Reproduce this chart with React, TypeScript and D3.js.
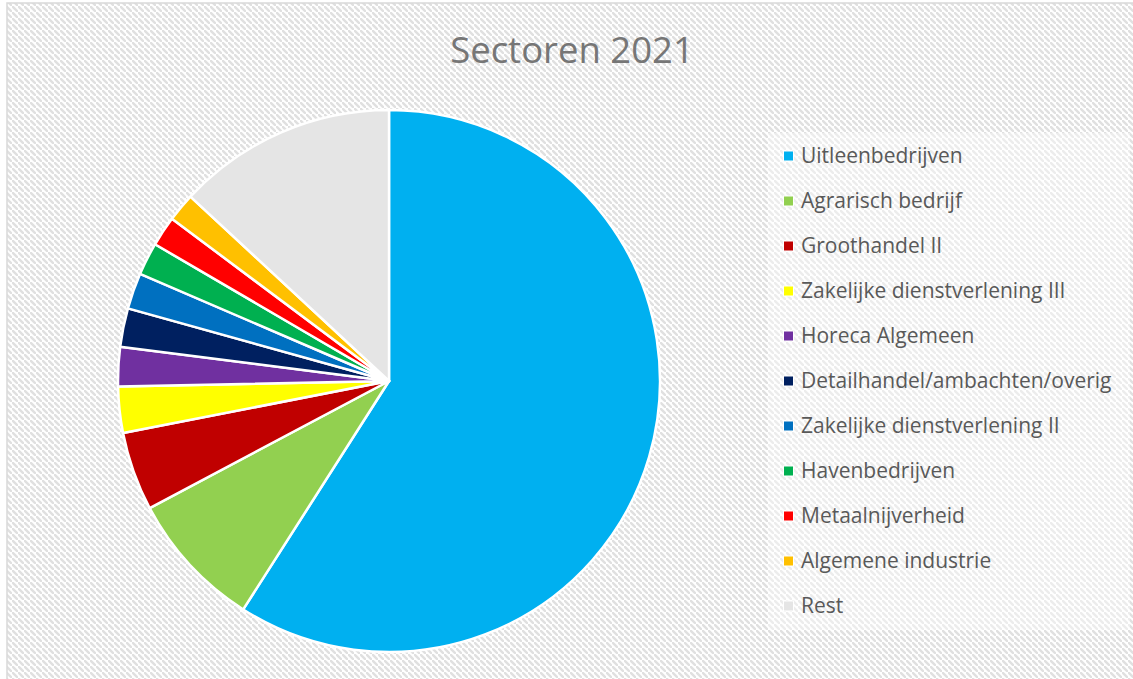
import React from "react";
import * as d3 from "d3";

const categories = [
  "Uitleenbedrijven",
  "Agrarisch bedrijf",
  "Groothandel II",
  "Zakelijke dienstverlening III",
  "Horeca Algemeen",
  "Detailhandel/ambachten/overig",
  "Zakelijke dienstverlening II",
  "Havenbedrijven",
  "Metaalnijverheid",
  "Algemene industrie",
  "Rest",
];
const values = [59.1, 8.2, 4.7, 2.75, 2.35, 2.3, 2.15, 1.95, 1.8, 1.7, 13.1];
const colors = [
  "#00b0f0",
  "#92d050",
  "#c00000",
  "#ffff00",
  "#7030a0",
  "#002060",
  "#0070c0",
  "#00b050",
  "#ff0000",
  "#ffc000",
  "#e5e5e5",
];
const title = "Sectoren 2021";

const W = 1133;
const H = 679;

export default function App() {
  const cx = 389;
  const cy = 381;
  const r = 271;
  const pie = d3.pie<number>().sort(null).value((d) => d);
  const arcs = pie(values);
  const arc = d3.arc<d3.PieArcDatum<number>>().innerRadius(0).outerRadius(r);
  const legendY = d3
    .scalePoint<string>()
    .domain(categories)
    .range([156, 606]);
  const font = "'Open Sans', 'DejaVu Sans', sans-serif";
  return (
    <svg
      width={W}
      height={H}
      style={{ position: "absolute", left: 0, top: 0, display: "block" }}
    >
      <defs>
        <pattern id="stripes" patternUnits="userSpaceOnUse" width={6} height={6}>
          <rect width={6} height={6} fill="#ffffff" />
          <path
            d="M-1.5,-1.5 L1.5,1.5 M0,0 L6,6 M4.5,4.5 L7.5,7.5"
            stroke="#e0e0e0"
            strokeWidth={2.4}
          />
        </pattern>
      </defs>
      <rect x={0} y={0} width={W} height={H} fill="#ffffff" />
      <rect x={7} y={3} width={W} height={H} fill="url(#stripes)" stroke="#d9d9d9" strokeWidth={1.5} />
      <text
        x={572}
        y={63}
        textAnchor="middle"
        fontFamily={font}
        fontSize={36.5}
        fill="#767676"
      >
        {title}
      </text>
      <g transform={`translate(${cx},${cy})`}>
        {arcs.map((a, i) => (
          <path
            key={categories[i]}
            d={arc(a) || ""}
            fill={colors[i]}
            stroke="#ffffff"
            strokeWidth={2.5}
            strokeLinejoin="round"
          />
        ))}
      </g>
      <rect x={768} y={133} width={362} height={497} fill="#ffffff" opacity={0.4} />
      <g>
        {categories.map((c, i) => {
          const y = legendY(c) as number;
          return (
            <g key={c}>
              <rect x={783} y={y - 5.5} width={11} height={11} fill="#ffffff" />
              <rect x={784} y={y - 4.5} width={9} height={9} fill={colors[i]} />
              <text
                x={801}
                y={y}
                dy="0.35em"
                fontFamily={font}
                fontSize={21}
                fill="#595959"
              >
                {c}
              </text>
            </g>
          );
        })}
      </g>
    </svg>
  );
}
